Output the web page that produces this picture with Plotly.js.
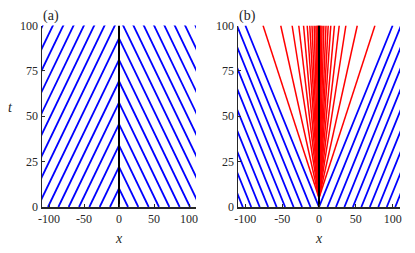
<!DOCTYPE html>
<html>
<head>
<meta charset="utf-8">
<script src="https://cdn.plot.ly/plotly-3.0.1.min.js"></script>
<style>html,body{margin:0;padding:0;background:#fff}#chart{width:415px;height:253px}</style>
</head>
<body>
<div id="chart"></div>
<script>
// ---- Data ----
// Panel (a): blue fronts travelling towards x = 0 (speed, start positions at t = 0)
const speedA = 1.25;
const startLeftA = [-12.9, -27.6, -42.4, -57.1, -71.9, -86.6, -101.4, -116.1, -130.9, -145.6, -160.4, -175.1, -189.9, -204.6, -219.4, -234.1];
const startRightA = [12.9, 27.6, 42.4, 57.1, 71.9, 86.6, 101.4, 116.1, 130.9, 145.6, 160.4, 175.1, 189.9, 204.6, 219.4, 234.1];
// Panel (b): blue fronts travelling away from x = 0
const speedB = 1.0;
const startLeftB = [0, -11.5, -23.0, -34.5, -46.0, -57.5, -69.0, -80.5, -92.0, -103.5, -115.0];
const startRightB = [0, 11.5, 23.0, 34.5, 46.0, 57.5, 69.0, 80.5, 92.0, 103.5, 115.0];
// Panel (b): red fan, apex time and positions reached at t = 100
const fanApexT = 5;
const fanTopX = [-76, -52, -36.5, -27.5, -21, -16, -12.5, -9.5, -6.6, -4.2, -2.6, -1.5, -0.7,
                 0.7, 1.5, 2.6, 4.2, 6.6, 9.5, 12.5, 16, 21, 27.5, 36.5, 52, 76];
const tMax = 100;
const xRange = [-110, 110];
const xTicks = [-100, -50, 0, 50, 100];
const tTicks = [0, 25, 50, 75, 100];

// ---- build traces ----
function segs(list) {
  const x = [], y = [];
  list.forEach(s => { x.push(s[0], s[2], null); y.push(s[1], s[3], null); });
  return {x, y};
}
const segA = [];
startLeftA.forEach(x0 => segA.push([x0, 0, 0, -x0 / speedA]));
startRightA.forEach(x0 => segA.push([x0, 0, 0, x0 / speedA]));
const segB = [];
startLeftB.forEach(x0 => segB.push([x0, 0, x0 - speedB * tMax, tMax]));
startRightB.forEach(x0 => segB.push([x0, 0, x0 + speedB * tMax, tMax]));
const segR = fanTopX.map(xt => [0, fanApexT, xt, tMax]);

const blue = '#0000ff', red = '#ff0000';
const a = segs(segA), b = segs(segB), r = segs(segR);
const traces = [
  {x: a.x, y: a.y, xaxis: 'x', yaxis: 'y', mode: 'lines', line: {color: blue, width: 1.8}, hoverinfo: 'skip'},
  {x: [0, 0], y: [0, tMax], xaxis: 'x', yaxis: 'y', mode: 'lines', line: {color: '#000', width: 2}, hoverinfo: 'skip'},
  {x: b.x, y: b.y, xaxis: 'x2', yaxis: 'y2', mode: 'lines', line: {color: blue, width: 1.8}, hoverinfo: 'skip'},
  {x: r.x, y: r.y, xaxis: 'x2', yaxis: 'y2', mode: 'lines', line: {color: red, width: 1.5}, hoverinfo: 'skip'},
  {x: [0, 0], y: [0, tMax], xaxis: 'x2', yaxis: 'y2', mode: 'lines', line: {color: '#000', width: 2}, hoverinfo: 'skip'}
];

const SERIF = 'Liberation Serif';
const tickFont = {family: SERIF, size: 12, color: '#262626'};
function xax(domain, anchor) {
  return {domain, anchor, range: xRange, tickvals: xTicks, ticktext: xTicks.map(String),
    showline: true, linecolor: '#262626', linewidth: 1.5, ticks: 'inside', ticklen: 3, tickcolor: '#262626',
    showgrid: false, zeroline: false, tickfont: tickFont, fixedrange: true};
}
function yax(domain, anchor) {
  return {domain, anchor, range: [0, tMax], tickvals: tTicks, ticktext: tTicks.map(String),
    showline: true, linecolor: '#262626', linewidth: 1.5, ticks: 'inside', ticklen: 3, tickcolor: '#262626',
    showgrid: false, zeroline: false, tickfont: tickFont, fixedrange: true};
}
const yDom = [46 / 253, 227.5 / 253];
const lblFont = {family: SERIF, size: 14, color: '#262626'};
const layout = {
  width: 415, height: 253,
  margin: {l: 0, r: 0, t: 0, b: 0},
  paper_bgcolor: '#fff', plot_bgcolor: '#fff',
  font: {family: SERIF},
  showlegend: false,
  xaxis: xax([42 / 415, 196 / 415], 'y'),
  yaxis: yax(yDom, 'x'),
  xaxis2: xax([238 / 415, 400 / 415], 'y2'),
  yaxis2: yax(yDom, 'x2'),
  annotations: [
    {text: '(a)', xref: 'paper', yref: 'paper', x: 41 / 415, y: (253 - 16) / 253, xanchor: 'left', yanchor: 'middle', showarrow: false, font: lblFont},
    {text: '(b)', xref: 'paper', yref: 'paper', x: 237 / 415, y: (253 - 16) / 253, xanchor: 'left', yanchor: 'middle', showarrow: false, font: lblFont},
    {text: '<i>t</i>', xref: 'paper', yref: 'paper', x: 10 / 415, y: (253 - 107) / 253, xanchor: 'center', yanchor: 'middle', showarrow: false, font: lblFont},
    {text: '<i>x</i>', xref: 'paper', yref: 'paper', x: 119 / 415, y: (253 - 238) / 253, xanchor: 'center', yanchor: 'middle', showarrow: false, font: lblFont},
    {text: '<i>x</i>', xref: 'paper', yref: 'paper', x: 318.5 / 415, y: (253 - 238) / 253, xanchor: 'center', yanchor: 'middle', showarrow: false, font: lblFont}
  ]
};
Plotly.newPlot('chart', traces, layout, {displayModeBar: false, staticPlot: true});
</script>
</body>
</html>
